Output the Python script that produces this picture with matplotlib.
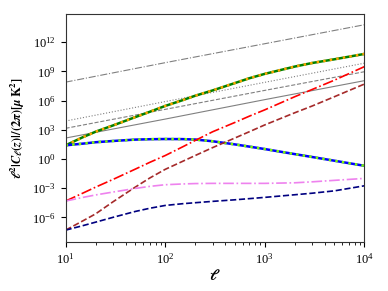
import numpy as np
import matplotlib
matplotlib.use("Agg")
from matplotlib import pyplot as plt
from matplotlib.ticker import NullLocator

plt.rcParams['font.family'] = 'serif'
plt.rcParams['font.serif'] = ['Liberation Serif', 'DejaVu Serif']
plt.rcParams['mathtext.fontset'] = 'stix'
# bold custom set, used only for the axis labels
plt.rcParams['mathtext.rm'] = 'STIXGeneral:bold'
plt.rcParams['mathtext.it'] = 'STIXGeneral:italic:bold'
plt.rcParams['mathtext.bf'] = 'STIXGeneral:bold'

# multipoles and log10 of l^2 |C_l| / (2 pi)
ell = [10, 15, 20, 30, 50, 70, 100, 150, 200, 300, 500, 700, 1000, 2000, 3000, 5000, 10000]
log_total = [1.4, 2.25, 2.8, 3.45, 4.3, 4.85, 5.45, 6.05, 6.5, 7.05, 7.8, 8.3, 8.75,
             9.5, 9.87, 10.25, 10.8]
log_peak = [1.4, 1.58, 1.72, 1.85, 1.99, 2.03, 2.05, 2.04, 2.0, 1.82, 1.5, 1.27, 1.02,
            0.5, 0.2, -0.18, -0.7]
log_red = [-4.33, -3.5, -2.9, -2.1, -1.05, -0.35, 0.35, 1.25, 1.9, 2.8, 3.75, 4.4, 5.05,
           6.4, 7.15, 8.1, 9.49]
log_brown = [-7.32, -6.35, -5.65, -4.4, -2.9, -1.96, -1.07, -0.24, 0.35, 1.17, 2.15, 2.8,
             3.5, 4.75, 5.45, 6.4, 7.7]
log_violet = [-4.33, -3.95, -3.7, -3.4, -3.03, -2.82, -2.65, -2.57, -2.53, -2.51, -2.51,
              -2.51, -2.51, -2.45, -2.35, -2.2, -2.0]
log_navy = [-7.32, -6.85, -6.5, -6.0, -5.4, -5.07, -4.78, -4.6, -4.5, -4.36, -4.2,
            -4.08, -3.95, -3.68, -3.52, -3.28, -2.76]

# straight power-law reference lines
ell_ref = [10, 100, 1000, 10000]
log_ref_dashdot = [7.9, 9.9, 11.85, 13.8]
log_ref_dotted = [3.9, 5.9, 7.88, 9.85]
log_ref_dashed = [3.15, 5.1, 7.05, 8.97]
log_ref_solid = [2.15, 4.1, 6.1, 8.05]

fig = plt.figure(figsize=(3.88, 2.91), dpi=100)
ax = fig.add_axes([0.169, 0.169, 0.770, 0.782])

ax.plot(ell_ref, 10**np.array(log_ref_dashdot), color='gray', ls='-.', lw=0.8)
ax.plot(ell_ref, 10**np.array(log_ref_dotted), color='gray', ls=':', lw=0.8)
ax.plot(ell_ref, 10**np.array(log_ref_dashed), color='gray', ls='--', lw=0.8)
ax.plot(ell_ref, 10**np.array(log_ref_solid), color='gray', ls='-', lw=0.8)

ax.plot(ell, 10**np.array(log_total), color='green', ls='-', lw=1.8)
ax.plot(ell, 10**np.array(log_total), color='orange', ls=':', lw=1.8)
ax.plot(ell, 10**np.array(log_peak), color='blue', ls='-', lw=1.8)
ax.plot(ell, 10**np.array(log_peak), color='lawngreen', ls=':', lw=1.8)
ax.plot(ell, 10**np.array(log_red), color='red', ls='-.', lw=1.2)
ax.plot(ell, 10**np.array(log_brown), color='brown', ls='--', lw=1.2)
ax.plot(ell, 10**np.array(log_violet), color='violet', ls='-.', lw=1.2)
ax.plot(ell, 10**np.array(log_navy), color='navy', ls='--', lw=1.2)

ax.set_xscale('log')
ax.set_yscale('log')
ax.set_xlim(10, 1e4)
ax.set_ylim(10**-8.52, 10**14.88)
ax.set_yticks([1e-6, 1e-3, 1e0, 1e3, 1e6, 1e9, 1e12])
ax.yaxis.set_minor_locator(NullLocator())
ax.tick_params(labelsize=9)
for s in ax.spines.values():
    s.set_color('#333333')

ax.set_xlabel(r'$\ell$', fontsize=11, math_fontfamily='custom', labelpad=1)
ax.set_ylabel(r'$\ell^2|C_\ell(z)|/(2\pi)[\mu\,\mathrm{K}^2]$', fontsize=9,
              math_fontfamily='custom')

plt.savefig('out.png', dpi=100)
